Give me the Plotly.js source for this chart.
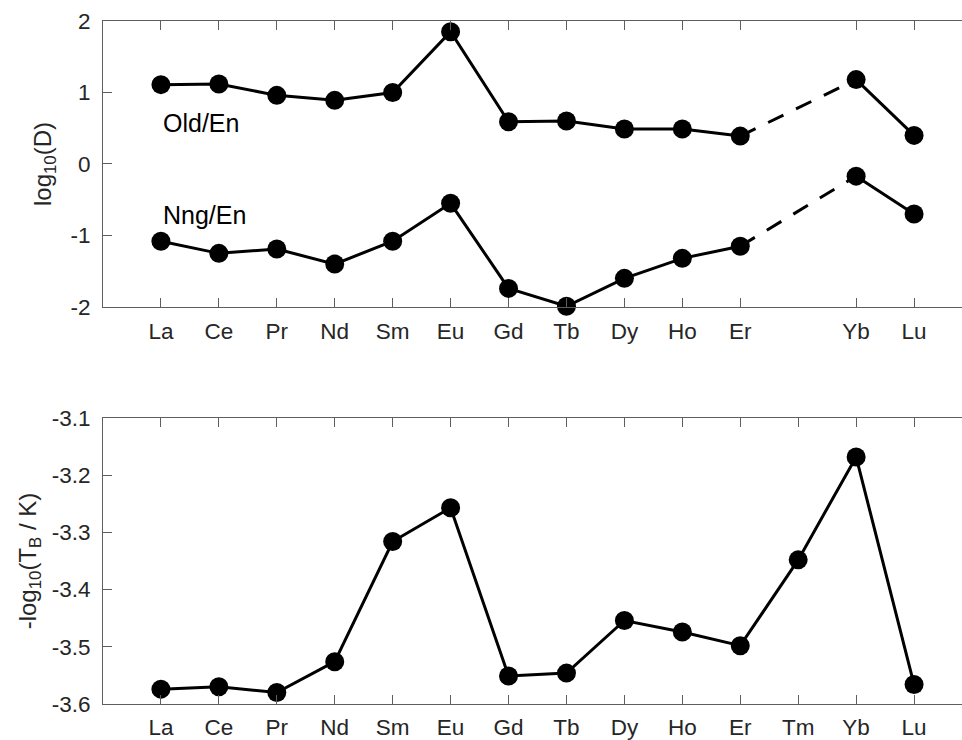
<!DOCTYPE html>
<html>
<head>
<meta charset="utf-8">
<script src="https://cdn.plot.ly/plotly-3.0.1.min.js"></script>
<style>
  html, body { margin: 0; padding: 0; overflow: hidden; background: #fff; }
  #chart { width: 975px; height: 740px; }
</style>
</head>
<body>
<div id="chart"></div>
<script>
// Lanthanide series, in order
const elements = ['La', 'Ce', 'Pr', 'Nd', 'Sm', 'Eu', 'Gd', 'Tb', 'Dy', 'Ho', 'Er', 'Tm', 'Yb', 'Lu'];

// log10 partition coefficients (no Tm value)
const oldEn = [1.11, 1.12, 0.96, 0.89, 1.00, 1.85, 0.59, 0.60, 0.49, 0.49, 0.39, null, 1.18, 0.40];
const nngEn = [-1.08, -1.25, -1.19, -1.40, -1.08, -0.55, -1.74, -1.99, -1.60, -1.32, -1.15, null, -0.17, -0.70];

// -log10(T_B / K)
const tb = [-3.574, -3.570, -3.580, -3.526, -3.316, -3.257, -3.551, -3.546, -3.454, -3.474, -3.498, -3.348, -3.168, -3.566];

const seriesLabels = ['Old/En', 'Nng/En'];

// y tick values
const yTicksTop = [-2, -1, 0, 1, 2];
const yTicksBottom = [-3.6, -3.5, -3.4, -3.3, -3.2, -3.1];

const pos = elements.map((_, i) => i + 1);
const topIdx = pos.filter((_, i) => oldEn[i] !== null);
const topText = elements.filter((_, i) => oldEn[i] !== null);
const iEr = elements.indexOf('Er');
const iYb = elements.indexOf('Yb');

const lineStyle = { color: '#000', width: 3 };
const markerStyle = { color: '#000', size: 19 };
const dashStyle = { color: '#000', width: 3, dash: '17px,14px' };

// dashed link across the missing Tm point
function bridge(vals) {
  return {
    x: [pos[iEr], pos[iYb]], y: [vals[iEr], vals[iYb]],
    xaxis: 'x', yaxis: 'y', mode: 'lines', line: dashStyle,
    hoverinfo: 'skip', showlegend: false, cliponaxis: false
  };
}

const traces = [
  bridge(oldEn), bridge(nngEn),
  { x: pos, y: oldEn, xaxis: 'x', yaxis: 'y', mode: 'lines+markers', name: seriesLabels[0],
    line: lineStyle, marker: markerStyle, connectgaps: false, cliponaxis: false },
  { x: pos, y: nngEn, xaxis: 'x', yaxis: 'y', mode: 'lines+markers', name: seriesLabels[1],
    line: lineStyle, marker: markerStyle, connectgaps: false, cliponaxis: false },
  { x: pos, y: tb, xaxis: 'x2', yaxis: 'y2', mode: 'lines+markers', name: 'TB',
    line: lineStyle, marker: markerStyle, cliponaxis: false }
];

const fontFam = 'Liberation Sans, Arial, sans-serif';

const axisCommon = {
  showgrid: false, zeroline: false, showline: true, mirror: 'allticks',
  linecolor: '#5e5e5e', linewidth: 1, ticks: 'inside', ticklen: 9, tickwidth: 1,
  tickcolor: '#5e5e5e', tickfont: { family: fontFam, size: 22.5, color: '#262626' }
};

const titleFont = { family: fontFam, size: 24, color: '#262626' };

const layout = {
  width: 975, height: 740,
  margin: { l: 103, r: 3, t: 21, b: 36 },
  paper_bgcolor: '#fff', plot_bgcolor: '#fff',
  showlegend: false,
  font: { family: fontFam, color: '#262626' },
  xaxis: Object.assign({}, axisCommon, {
    anchor: 'y', range: [0, 15], tickvals: topIdx, ticktext: topText, ticklabelstandoff: 4
  }),
  yaxis: Object.assign({}, axisCommon, {
    domain: [0.5813, 1], range: [-2, 2], tickvals: yTicksTop,
    ticktext: yTicksTop.map(v => String(v)), ticklabelstandoff: 7,
    title: { text: 'log<sub>10</sub>(D)', font: titleFont, standoff: 12 }
  }),
  xaxis2: Object.assign({}, axisCommon, {
    anchor: 'y2', range: [0, 15], tickvals: pos, ticktext: elements, ticklabelstandoff: 3
  }),
  yaxis2: Object.assign({}, axisCommon, {
    anchor: 'x2', domain: [0, 0.4187], range: [-3.6, -3.1], tickvals: yTicksBottom,
    ticktext: yTicksBottom.map(v => v.toFixed(1)), ticklabelstandoff: 7,
    title: { text: '-log<sub>10</sub>(T<sub>B</sub> / K)', font: titleFont, standoff: 8 }
  }),
  annotations: [
    { x: pos[0], y: 0.57, xref: 'x', yref: 'y', text: seriesLabels[0], showarrow: false,
      xanchor: 'left', yanchor: 'middle', font: { family: fontFam, size: 25, color: '#000' } },
    { x: pos[0], y: -0.72, xref: 'x', yref: 'y', text: seriesLabels[1], showarrow: false,
      xanchor: 'left', yanchor: 'middle', font: { family: fontFam, size: 25, color: '#000' } }
  ]
};

Plotly.newPlot('chart', traces, layout, { staticPlot: true, displayModeBar: false });
</script>
</body>
</html>
